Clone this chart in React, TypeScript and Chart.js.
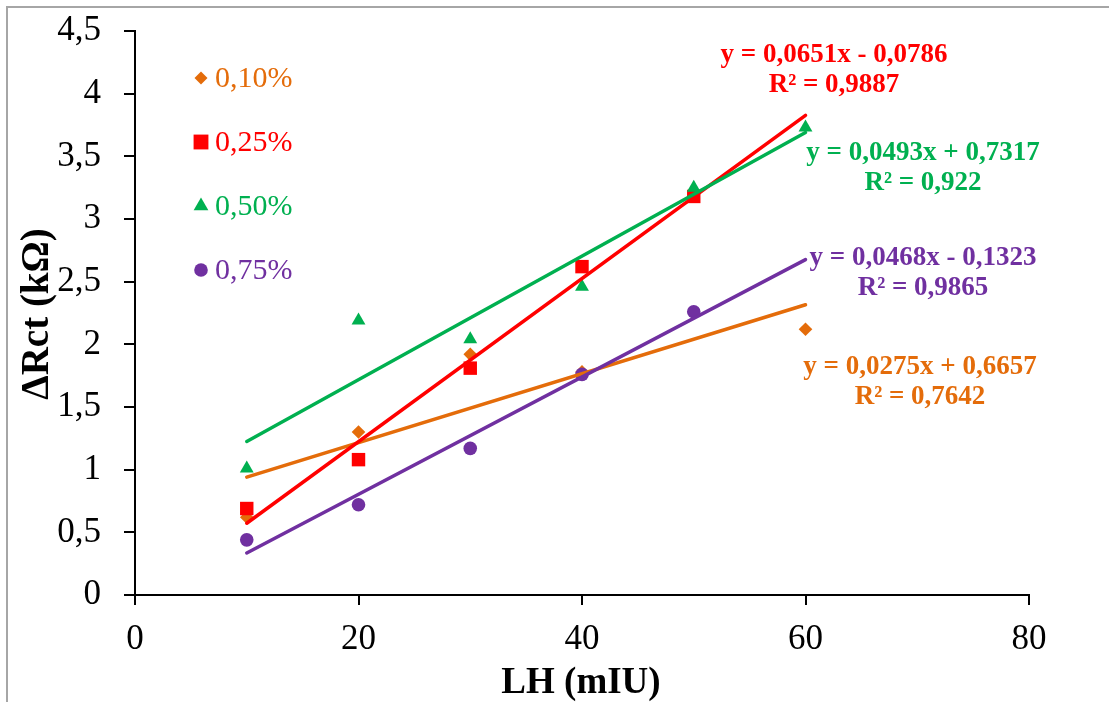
import React, { useEffect, useRef } from "react";
import Chart from "chart.js/auto";

// ---- data ----
const seriesLabels = ["0,10%", "0,25%", "0,50%", "0,75%"];
const seriesColors = ["#E46C0A", "#FF0000", "#00B050", "#7030A0"];
const seriesMarkers = ["rectRot", "rect", "triangle", "circle"];

const xOrange = [10, 20, 30, 40, 60];
const yOrange = [0.62, 1.3, 1.92, 1.78, 2.12];
const xRed = [10, 20, 30, 40, 50];
const yRed = [0.69, 1.08, 1.81, 2.62, 3.18];
const xGreen = [10, 20, 30, 40, 50, 60];
const yGreen = [1.01, 2.19, 2.04, 2.46, 3.25, 3.73];
const xPurple = [10, 20, 30, 40, 50];
const yPurple = [0.44, 0.72, 1.17, 1.76, 2.26];

const slopes = [0.0275, 0.0651, 0.0493, 0.0468];
const intercepts = [0.6657, -0.0786, 0.7317, -0.1323];
const equationTexts = [
  "y = 0,0275x + 0,6657",
  "y = 0,0651x - 0,0786",
  "y = 0,0493x + 0,7317",
  "y = 0,0468x - 0,1323",
];
const r2Texts = ["R² = 0,7642", "R² = 0,9887", "R² = 0,922", "R² = 0,9865"];
const trendRange = [10, 60];

const xTickValues = [0, 20, 40, 60, 80];
const yTickValues = [0, 0.5, 1, 1.5, 2, 2.5, 3, 3.5, 4, 4.5];
const xTitle = "LH (mIU)";
const yTitle = "ΔRct (kΩ)";

const FONT = "'Liberation Serif', 'Times New Roman', serif";

function drawMarker(ctx: CanvasRenderingContext2D, style: string, x: number, y: number, r: number, color: string) {
  ctx.save();
  ctx.fillStyle = color;
  ctx.beginPath();
  if (style === "rectRot") {
    ctx.moveTo(x, y - r);
    ctx.lineTo(x + r, y);
    ctx.lineTo(x, y + r);
    ctx.lineTo(x - r, y);
    ctx.closePath();
  } else if (style === "rect") {
    ctx.rect(x - r * 0.707, y - r * 0.707, r * 1.414, r * 1.414);
  } else if (style === "triangle") {
    ctx.moveTo(x, y - r);
    ctx.lineTo(x + r * 0.866, y + r * 0.5);
    ctx.lineTo(x - r * 0.866, y + r * 0.5);
    ctx.closePath();
  } else {
    ctx.arc(x, y, r, 0, Math.PI * 2);
  }
  ctx.fill();
  ctx.restore();
}

export default function App() {
  const ref = useRef<HTMLCanvasElement | null>(null);

  useEffect(() => {
    document.body.style.margin = "0";
    const canvas = ref.current!;
    const xs = [xOrange, xRed, xGreen, xPurple];
    const ys = [yOrange, yRed, yGreen, yPurple];
    const radii = [6.8, 9.5, 8, 6.8];

    const datasets: any[] = [];
    for (let i = 0; i < 4; i++) {
      datasets.push({
        type: "scatter",
        label: seriesLabels[i],
        data: xs[i].map((x, k) => ({ x, y: ys[i][k] })),
        pointStyle: seriesMarkers[i],
        pointRadius: radii[i],
        pointBackgroundColor: seriesColors[i],
        pointBorderWidth: 0,
        pointBorderColor: seriesColors[i],
        showLine: false,
        order: 8 - i,
      });
    }
    for (let i = 0; i < 4; i++) {
      datasets.push({
        type: "scatter",
        label: "trend " + seriesLabels[i],
        data: trendRange.map((x) => ({ x, y: slopes[i] * x + intercepts[i] })),
        showLine: true,
        borderColor: seriesColors[i],
        borderWidth: 3.5,
        borderCapStyle: "round",
        pointRadius: 0,
        order: 4 - i,
      });
    }

    const annotationPos = [
      { x: 920, y: 367 },
      { x: 834, y: 55 },
      { x: 923, y: 153 },
      { x: 923, y: 258 },
    ];

    const overlay = {
      id: "overlay",
      afterDraw(chart: any) {
        const ctx = chart.ctx as CanvasRenderingContext2D;
        ctx.save();
        // frame
        ctx.strokeStyle = "#a6a6a6";
        ctx.lineWidth = 2;
        ctx.beginPath();
        ctx.moveTo(7, 702);
        ctx.lineTo(7, 7);
        ctx.lineTo(1109, 7);
        ctx.stroke();
        // legend
        const legY = [78, 142, 206, 270];
        const legR = [6.5, 10.5, 8.5, 6.8];
        ctx.font = `30px ${FONT}`;
        ctx.textBaseline = "middle";
        ctx.textAlign = "left";
        for (let i = 0; i < 4; i++) {
          drawMarker(ctx, seriesMarkers[i], 201, legY[i], legR[i], seriesColors[i]);
          ctx.fillStyle = seriesColors[i];
          ctx.fillText(seriesLabels[i], 215, legY[i] + 1);
        }
        // equations
        ctx.font = `bold 27px ${FONT}`;
        ctx.textAlign = "center";
        for (let i = 0; i < 4; i++) {
          ctx.fillStyle = seriesColors[i];
          ctx.fillText(equationTexts[i], annotationPos[i].x, annotationPos[i].y);
          ctx.fillText(r2Texts[i], annotationPos[i].x, annotationPos[i].y + 30);
        }
        // axis titles
        ctx.fillStyle = "#000";
        ctx.font = `bold 37px ${FONT}`;
        ctx.textAlign = "center";
        ctx.fillText(xTitle, 581, 683);
        ctx.font = `bold 39px ${FONT}`;
        ctx.translate(38, 314);
        ctx.rotate(-Math.PI / 2);
        ctx.fillText(yTitle, 0, 0);
        ctx.restore();
      },
    };

    const fmt = (v: any) => String(v).replace(".", ",");

    const chart = new Chart(canvas, {
      type: "scatter",
      data: { datasets },
      options: {
        animation: false,
        responsive: false,
        devicePixelRatio: 1,
        layout: { padding: { left: 0, right: 80, top: 31, bottom: 0 } },
        plugins: { legend: { display: false }, tooltip: { enabled: false } },
        scales: {
          x: {
            type: "linear",
            min: 0,
            max: 80,
            afterBuildTicks: (s: any) => {
              s.ticks = xTickValues.map((v) => ({ value: v }));
            },
            afterFit: (s: any) => {
              s.height = 702 - 595;
              s.paddingLeft = 0;
              s.paddingRight = 0;
            },
            grid: { drawOnChartArea: false, tickLength: 10, color: "#000", lineWidth: 2 },
            border: { color: "#000", width: 2 },
            ticks: { color: "#000", font: { family: FONT, size: 35 }, padding: 14, callback: fmt },
          },
          y: {
            type: "linear",
            min: 0,
            max: 4.5,
            afterBuildTicks: (s: any) => {
              s.ticks = yTickValues.map((v) => ({ value: v }));
            },
            afterFit: (s: any) => {
              s.width = 135;
              s.paddingTop = 0;
              s.paddingBottom = 0;
            },
            grid: { drawOnChartArea: false, tickLength: 11, color: "#000", lineWidth: 2 },
            border: { color: "#000", width: 2 },
            ticks: { color: "#000", font: { family: FONT, size: 35 }, padding: 23, callback: fmt },
          },
        },
      },
      plugins: [overlay],
    } as any);
    return () => chart.destroy();
  }, []);

  return (
    <div style={{ position: "absolute", left: 0, top: 0, width: 1109, height: 702, background: "#fff" }}>
      <canvas ref={ref} width={1109} height={702} style={{ width: 1109, height: 702, display: "block" }} />
    </div>
  );
}
